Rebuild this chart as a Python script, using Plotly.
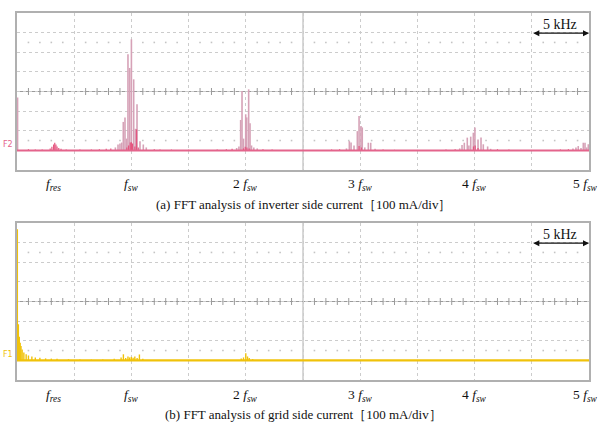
import numpy as np
import plotly.graph_objects as go

# ---------------- data (kHz, mA) ----------------
# (a) inverter side current - max-hold spectrum (light trace)
inv_hold_freq = [0.05, 8.6, 8.83, 9.0, 9.15, 9.29, 9.44, 9.58, 9.70, 9.85, 10.0, 10.2, 10.35, 10.49,
                 10.75, 11.04, 11.3,
                 19.2, 19.4, 19.55, 19.67, 19.8, 19.99, 20.08, 20.25, 20.37, 20.5, 20.7, 21.0,
                 28.8, 29.05, 29.2, 29.46, 29.75, 29.9, 30.07, 30.18, 30.4, 30.71, 30.92, 31.3,
                 38.7, 38.9, 39.1, 39.36, 39.5, 39.66, 39.89, 40.03, 40.3, 40.56, 40.76, 41.14, 41.4,
                 48.6, 48.86, 49.06, 49.3, 49.5, 49.65, 49.8, 49.94]
inv_hold_amp = [270, 15, 30, 35, 40, 145, 168, 60, 490, 420, 566, 362, 110, 235,
                47, 30, 15,
                12, 20, 155, 302, 60, 184, 168, 311, 138, 25, 15, 10,
                10, 47, 40, 25, 98, 175, 124, 117, 15, 39, 39, 8,
                10, 27, 39, 65, 25, 70, 90, 116, 56, 65, 31, 20, 8,
                10, 15, 22, 12, 39, 39, 15, 31]

# (a) inverter side current - live spectrum (dark trace)
inv_live_freq = [1.0, 1.6, 2.2, 2.9, 3.05, 3.2, 3.3, 3.4, 3.5, 3.65, 3.85, 4.3, 5.5, 6.5, 7.2, 7.8, 8.2,
                 9.6, 9.75, 9.9, 10.0, 10.1, 10.3, 10.45, 10.6, 12.0, 12.5, 13.5, 15.0, 17.5, 18.3, 18.8,
                 19.8, 19.95, 20.1, 20.3, 21.5, 22.3, 27.5, 28.2, 29.9, 30.1, 32.0, 33.0,
                 37.5, 38.3, 39.9, 40.05, 40.3, 42.0, 43.0, 47.5, 48.2]
inv_live_amp = [6, 4, 5, 10, 18, 30, 39, 30, 20, 12, 8, 5, 4, 5, 6, 8, 10,
                15, 25, 40, 42, 35, 20, 107, 15, 6, 5, 4, 3, 5, 6, 8,
                10, 18, 15, 10, 6, 4, 5, 6, 22, 15, 5, 3,
                4, 6, 20, 25, 12, 6, 4, 4, 6]

# (b) grid side current spectrum
grid_freq = [0.03, 0.12, 0.2, 0.28, 0.35, 0.45, 0.6, 0.8, 1.0, 1.3, 1.6, 2.0, 2.5, 3.0, 3.5, 4.5,
             5.5, 6.5, 7.5, 8.5, 9.1, 9.3, 9.5, 9.7, 9.85, 10.0, 10.15, 10.3, 10.5, 10.7, 11.0,
             19.6, 19.8, 20.0, 20.15, 20.3, 20.6]
grid_amp = [668, 184, 120, 90, 73, 55, 40, 31, 25, 20, 15, 13, 10, 9, 8, 6,
            5, 4, 5, 8, 15, 31, 12, 20, 15, 18, 14, 20, 12, 30, 8,
            10, 15, 36, 20, 12, 6]

# tick labels
tick_pos = [3.15, 10, 20, 30, 40, 50]
tick_text = ["<i>f</i><sub><i>res</i></sub>", "<i>f</i><sub><i>sw</i></sub>",
             "2 <i>f</i><sub><i>sw</i></sub>", "3 <i>f</i><sub><i>sw</i></sub>",
             "4 <i>f</i><sub><i>sw</i></sub>", "5 <i>f</i><sub><i>sw</i></sub>"]
captions = ["(a) FFT analysis of inverter side current［100 mA/div］",
            "(b) FFT analysis of grid side current［100 mA/div］"]

# ---------------- helpers ----------------
def spikes(freqs, amps):
    xs, ys = [], []
    for f, a in zip(freqs, amps):
        xs += [f, f, None]
        ys += [0, a, None]
    return xs, ys

W, H = 600, 426
X0, X1 = 17, 589
panels = [(13, 170), (223, 380)]
SERIF = "Liberation Serif, Times New Roman, serif"
GRID = "#cccccc"
FRAME = "#b0b0b0"
CENTER = "#9a9a9a"

fig = go.Figure()
layout = dict(width=W, height=H, margin=dict(l=0, r=0, t=0, b=0), autosize=False,
              paper_bgcolor="white", plot_bgcolor="white", showlegend=False)

sub_x = [v for v in np.arange(1, 50, 1) if v % 5 != 0]

annotations = []
shapes = []
for i, (top, bot) in enumerate(panels):
    n = "" if i == 0 else "2"
    xa, ya = "x" + n, "y" + n
    layout["xaxis" + n] = dict(domain=[X0 / W, X1 / W], range=[0, 50], dtick=5, tick0=0,
                               showgrid=True, gridcolor=GRID, griddash="dot", gridwidth=1,
                               showticklabels=False, ticks="", zeroline=False,
                               showline=True, mirror=True, linecolor=FRAME, linewidth=1.5,
                               anchor=ya, fixedrange=True, layer="below traces")
    layout["yaxis" + n] = dict(domain=[1 - bot / H, 1 - top / H], range=[-100, 700], dtick=100, tick0=0,
                               showgrid=True, gridcolor=GRID, griddash="dot", gridwidth=1,
                               showticklabels=False, ticks="", zeroline=False,
                               showline=True, mirror=True, linecolor=FRAME, linewidth=1.5,
                               anchor=xa, fixedrange=True, layer="below traces")
    # center cross lines
    shapes.append(dict(type="line", xref=xa, yref=ya, x0=0, x1=50, y0=300, y1=300, layer="below",
                       line=dict(color=CENTER, width=1)))
    shapes.append(dict(type="line", xref=xa, yref=ya, x0=25, x1=25, y0=-100, y1=700, layer="below",
                       line=dict(color="#b0b0b0", width=1)))
    # subdivision ticks on center line
    fig.add_trace(go.Scatter(x=sub_x, y=[300] * len(sub_x), mode="markers", xaxis=xa, yaxis=ya,
                             marker=dict(symbol="line-ns", size=5, line=dict(color=CENTER, width=1)),
                             hoverinfo="skip"))
    # dotted graticule rows
    for yy in (550, 50):
        fig.add_trace(go.Scatter(x=sub_x, y=[yy] * len(sub_x), mode="markers", xaxis=xa, yaxis=ya,
                                 marker=dict(symbol="square", size=1.6, color="#c4c4c4"),
                                 hoverinfo="skip"))
    # 5 kHz scale arrow
    annotations.append(dict(xref=xa, yref=ya, axref=xa, ayref=ya, x=50, y=597, ax=45, ay=597,
                            showarrow=True, arrowhead=2, arrowsize=1, arrowwidth=1.2,
                            arrowside="end+start", arrowcolor="#111", text=""))
    annotations.append(dict(xref=xa, yref=ya, x=47.5, y=643, text="5 kHz", showarrow=False,
                            font=dict(family=SERIF, size=14, color="#111")))
    # tick labels
    for p, t in zip(tick_pos, tick_text):
        annotations.append(dict(xref=xa, yref="paper", x=p, y=1 - (bot + 15) / H, text=t,
                                showarrow=False, font=dict(family=SERIF, size=13.5, color="#111"),
                                yanchor="middle", xshift=(-4 if p == 50 else 0)))
    # caption
    annotations.append(dict(xref="paper", yref="paper", x=303 / W, y=1 - (bot + 34) / H,
                            text=captions[i], showarrow=False, yanchor="middle",
                            font=dict(family=SERIF, size=13, color="#111")))

# ----- panel (a) traces -----
hx, hy = spikes(inv_hold_freq, inv_hold_amp)
fig.add_trace(go.Scatter(x=hx, y=hy, mode="lines", line=dict(color="#d6a2b7", width=1.6),
                         xaxis="x", yaxis="y", hoverinfo="skip"))
lx, ly = spikes(inv_live_freq, inv_live_amp)
fig.add_trace(go.Scatter(x=lx, y=ly, mode="lines", line=dict(color="#e4557f", width=1.2),
                         xaxis="x", yaxis="y", hoverinfo="skip"))
fig.add_trace(go.Scatter(x=[0, 50], y=[0, 0], mode="lines", line=dict(color="#e4648c", width=2),
                         xaxis="x", yaxis="y", hoverinfo="skip"))
fig.add_trace(go.Scatter(x=[0], y=[-118], mode="markers", cliponaxis=False, xaxis="x", yaxis="y",
                         marker=dict(symbol="triangle-up", size=7, color="#e4648c"), hoverinfo="skip"))
annotations.append(dict(xref="paper", yref="y", x=15 / W, y=30, text="F2", showarrow=False,
                        xanchor="right", font=dict(family="DejaVu Sans", size=8, color="#e4648c")))

# ----- panel (b) traces -----
gx, gy = spikes(grid_freq, grid_amp)
fig.add_trace(go.Scatter(x=gx, y=gy, mode="lines", line=dict(color="#f0c20a", width=1.4),
                         xaxis="x2", yaxis="y2", hoverinfo="skip"))
fig.add_trace(go.Scatter(x=[0, 50], y=[0, 0], mode="lines", line=dict(color="#f0c20a", width=2.2),
                         xaxis="x2", yaxis="y2", hoverinfo="skip"))
fig.add_trace(go.Scatter(x=[0], y=[-118], mode="markers", cliponaxis=False, xaxis="x2", yaxis="y2",
                         marker=dict(symbol="triangle-up", size=7, color="#f0c20a"), hoverinfo="skip"))
annotations.append(dict(xref="paper", yref="y2", x=15 / W, y=30, text="F1", showarrow=False,
                        xanchor="right", font=dict(family="DejaVu Sans", size=8, color="#f0c20a")))

layout["annotations"] = annotations
layout["shapes"] = shapes
fig.update_layout(**layout)
fig.write_html("out.html", config={"displayModeBar": False},
               post_script="document.body.style.margin='0';document.body.style.overflow='hidden';")
